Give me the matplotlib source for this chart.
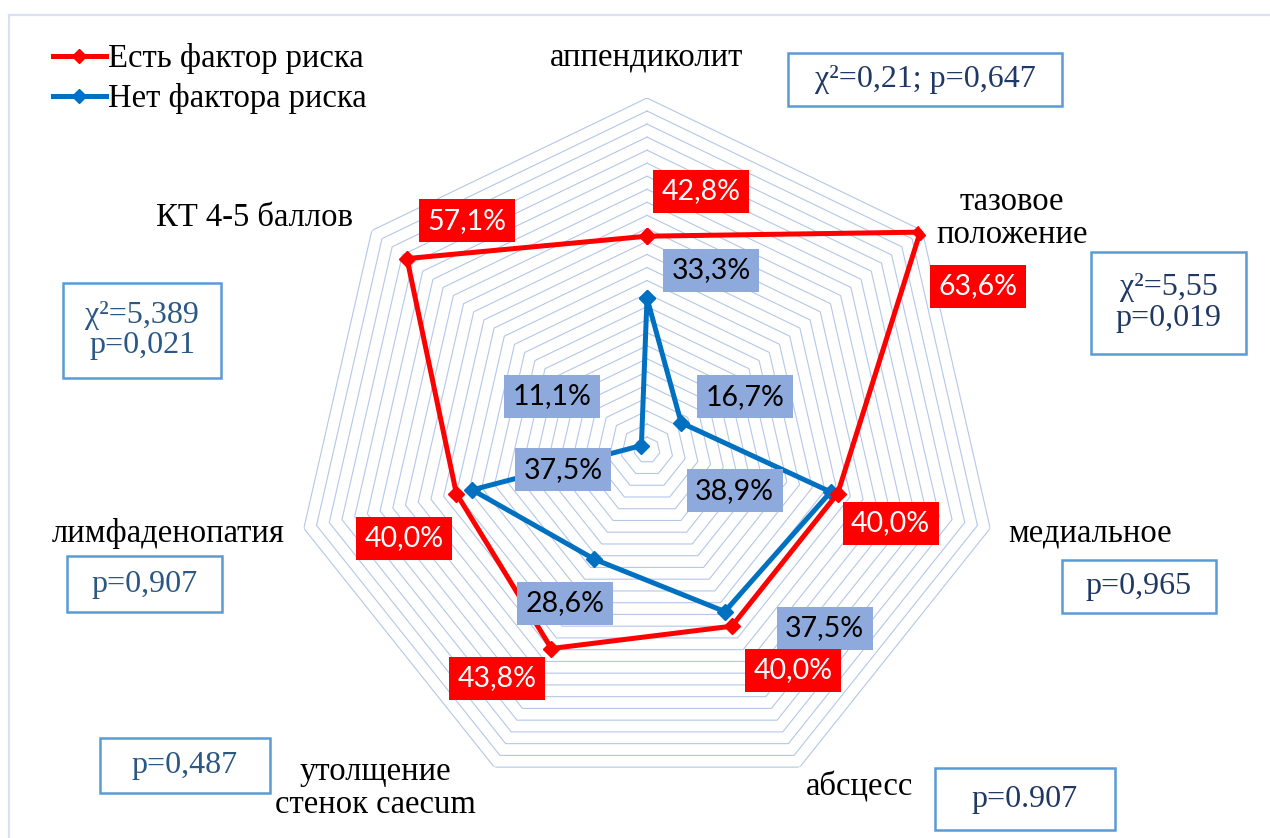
import numpy as np
import matplotlib
matplotlib.use('Agg')
import matplotlib.pyplot as plt
from matplotlib.lines import Line2D
from matplotlib.patches import Rectangle

# data
categories = ['аппендиколит', 'тазовое\nположение', 'медиальное', 'абсцесс',
              'утолщение\nстенок caecum', 'лимфаденопатия', 'КТ 4-5 баллов']
risk_yes = [42.8, 63.6, 40.0, 40.0, 43.8, 40.0, 57.1]
risk_no = [33.3, 16.7, 38.9, 37.5, 28.6, 37.5, 11.1]
series_names = ['Есть фактор риска', 'Нет фактора риска']
stats = ['χ²=0,21; p=0,647', 'χ²=5,55\np=0,019', 'p=0,965', 'p=0.907',
         'p=0,487', 'p=0,907', 'χ²=5,389\np=0,021']

W, H = 1270, 838
fig = plt.figure(figsize=(W / 100, H / 100), dpi=100)

def fx(px):
    return px / W

def fy(py):
    return 1 - py / H

# frame of the chart area (only top and left visible)
fig.add_artist(Line2D([fx(9), fx(9)], [fy(15), 0], color='#D9E1F2', lw=1.6))
fig.add_artist(Line2D([fx(9), 1], [fy(15), fy(15)], color='#D9E1F2', lw=1.6))

# radar in polar axes: center (647, 450), outer radius 352 px
cx, cy, R = 647, 450, 352
ax = fig.add_axes([fx(cx - R), fy(cy + R), 2 * R / W, 2 * R / H], projection='polar')
ax.set_theta_offset(np.pi / 2)
ax.set_theta_direction(-1)
ax.set_ylim(10, 64)
ax.grid(False)
ax.set_xticks([])
ax.set_yticks([])
ax.spines['polar'].set_visible(False)
ax.patch.set_alpha(0)

n = len(categories)
ang = np.linspace(0, 2 * np.pi, n, endpoint=False)
ang_c = np.append(ang, ang[0])

for r in np.arange(12, 65, 2):
    ax.plot(ang_c, [r] * (n + 1), color='#B4C7E7', lw=0.8, zorder=1)

l1, = ax.plot(ang_c, risk_yes + risk_yes[:1], color='#FF0000', lw=3.6,
              marker='D', ms=8.5, zorder=4, label=series_names[0])
l2, = ax.plot(ang_c, risk_no + risk_no[:1], color='#0070C0', lw=3.6,
              marker='D', ms=8.5, zorder=3, label=series_names[1])

# data labels, offsets in px (x right, y up)
red_off = [(54, 45), (58, -54), (53, -30), (61, -44), (-54, -30), (-52, -45), (60, 38)]
blue_off = [(64, 28), (64, 26), (-96, 1), (100, -17), (-29, -44), (91, 20), (-89, 49)]

def lab(v):
    return f'{v:.1f}%'.replace('.', ',')

for a, v, o in zip(ang, risk_yes, red_off):
    ax.annotate(lab(v), xy=(a, v), xytext=(o[0] * 0.72, o[1] * 0.72),
                textcoords='offset points', ha='center', va='center',
                fontsize=20.5, family='Lato', color='white', zorder=6,
                bbox=dict(boxstyle='square,pad=0.3', fc='#FF0000', ec='none'))
for a, v, o in zip(ang, risk_no, blue_off):
    ax.annotate(lab(v), xy=(a, v), xytext=(o[0] * 0.72, o[1] * 0.72),
                textcoords='offset points', ha='center', va='center',
                fontsize=20.5, family='Lato', color='black', zorder=5,
                bbox=dict(boxstyle='square,pad=0.3', fc='#8EA9DB', ec='none'))

# category labels
cat_pos = [(647, 57), (1012, 218), (1090, 533), (860, 787), (375, 788), (168, 533), (255, 218)]
for t, (x, y) in zip(categories, cat_pos):
    fig.text(fx(x), fy(y), t, ha='center', va='center', fontsize=23.5,
             family='Liberation Serif', color='black', linespacing=1.1)

# statistic boxes
boxes = [(788, 53, 1062, 106), (1091, 252, 1246, 354), (1062, 560, 1216, 613),
         (935, 768, 1115, 830), (100, 738, 270, 793), (67, 556, 222, 612),
         (63, 283, 221, 378)]
colors = ['#1F3864', '#1F3864', '#1F3864', '#1F3864', '#2A5783', '#2A5783', '#2A5783']
for t, (x0, y0, x1, y1), c in zip(stats, boxes, colors):
    fig.add_artist(Rectangle((fx(x0), fy(y1)), fx(x1 - x0), (y1 - y0) / H,
                             fill=False, ec='#5B9BD5', lw=1.8))
    fig.text(fx((x0 + x1) / 2), fy((y0 + y1) / 2), t, ha='center', va='center',
             fontsize=23, family='Liberation Serif', color=c, linespacing=1.05)

# legend
fig.legend(handles=[l1, l2], loc='upper left', bbox_to_anchor=(fx(24), fy(14)),
           frameon=False, prop={'family': 'Liberation Serif', 'size': 23.5},
           handlelength=1.6, handletextpad=0.08, labelspacing=0.27, markerscale=0.85)

fig.savefig('out.png', dpi=100)
